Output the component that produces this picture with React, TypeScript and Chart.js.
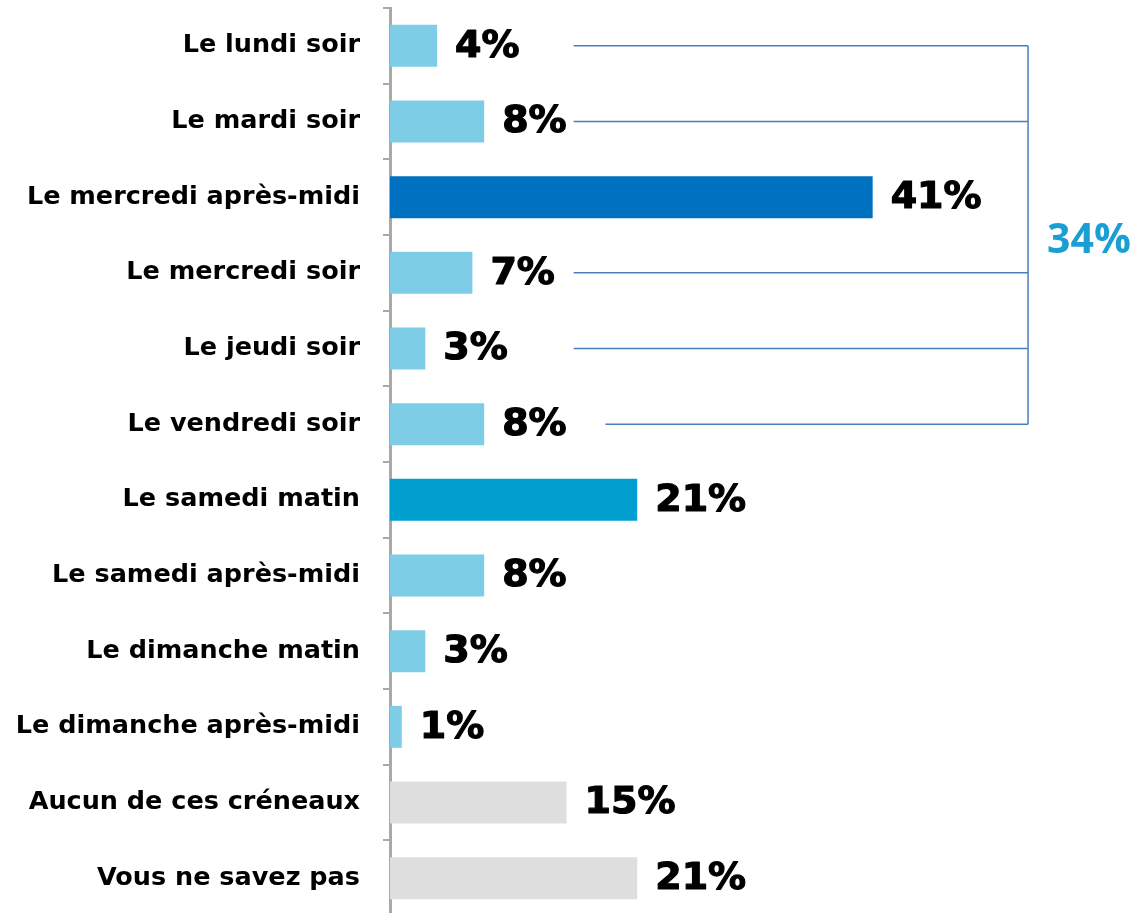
import React, { useEffect, useRef } from "react";
import { Chart, registerables } from "chart.js";

Chart.register(...registerables);

const categories = [
  "Le lundi soir",
  "Le mardi soir",
  "Le mercredi après-midi",
  "Le mercredi soir",
  "Le jeudi soir",
  "Le vendredi soir",
  "Le samedi matin",
  "Le samedi après-midi",
  "Le dimanche matin",
  "Le dimanche après-midi",
  "Aucun de ces créneaux",
  "Vous ne savez pas",
];
const values = [4, 8, 41, 7, 3, 8, 21, 8, 3, 1, 15, 21];
const LIGHT = "#7ecde6";
const DARK = "#0070c0";
const MID = "#009fd0";
const GRAY = "#dedede";
const barColors = [LIGHT, LIGHT, DARK, LIGHT, LIGHT, LIGHT, MID, LIGHT, LIGHT, LIGHT, GRAY, GRAY];
const bracketRows = [0, 1, 3, 4, 5];
const bracketTotal = "34%";

const valueLabels = {
  id: "valueLabels",
  afterDatasetsDraw(chart: any) {
    const { ctx } = chart;
    const meta = chart.getDatasetMeta(0);
    ctx.save();
    ctx.font = "bold 38px 'DejaVu Sans'";
    ctx.fillStyle = "#000";
    ctx.strokeStyle = "#000";
    ctx.lineWidth = 1.2;
    ctx.lineJoin = "round";
    ctx.textAlign = "left";
    ctx.textBaseline = "middle";
    meta.data.forEach((bar: any, i: number) => {
      const t = values[i] + "%";
      ctx.fillText(t, bar.x + 18, bar.y + 1);
      ctx.strokeText(t, bar.x + 18, bar.y + 1);
    });
    ctx.restore();
  },
};

const bracket = {
  id: "bracket",
  afterDatasetsDraw(chart: any) {
    const { ctx, scales } = chart;
    const xs = scales.x;
    const ys = scales.y;
    const right = xs.getPixelForValue(54.2);
    ctx.save();
    ctx.strokeStyle = "#4a7ebf";
    ctx.lineWidth = 1.5;
    const ysPix = bracketRows.map((r) => ys.getPixelForValue(r));
    bracketRows.forEach((r, k) => {
      const startVal = k === bracketRows.length - 1 ? 18.3 : 15.6;
      ctx.beginPath();
      ctx.moveTo(xs.getPixelForValue(startVal), ysPix[k]);
      ctx.lineTo(right, ysPix[k]);
      ctx.stroke();
    });
    ctx.beginPath();
    ctx.moveTo(right, ysPix[0]);
    ctx.lineTo(right, ysPix[ysPix.length - 1]);
    ctx.stroke();
    ctx.font = "bold 41px 'Open Sans'";
    ctx.fillStyle = "#1a9fd4";
    ctx.textAlign = "left";
    ctx.textBaseline = "middle";
    ctx.fillText(bracketTotal, right + 19, (ysPix[0] + ysPix[ysPix.length - 1]) / 2 + 6);
    ctx.restore();
  },
};

export default function App() {
  const ref = useRef<HTMLCanvasElement>(null);
  useEffect(() => {
    if (!ref.current) return;
    const chart = new Chart(ref.current, {
      type: "bar",
      data: {
        labels: categories,
        datasets: [
          {
            data: values,
            backgroundColor: barColors,
            barPercentage: 0.555,
            categoryPercentage: 1,
          },
        ],
      },
      options: {
        indexAxis: "y",
        animation: false,
        responsive: false,
        maintainAspectRatio: false,
        layout: { padding: { top: 8, right: 0, bottom: 0, left: 0 } },
        plugins: { legend: { display: false }, tooltip: { enabled: false } },
        scales: {
          x: { display: false, min: 0, max: 63.2 },
          y: {
            afterFit(scale: any) {
              scale.width = 390;
              scale.paddingTop = 0;
              scale.paddingBottom = 0;
            },
            grid: {
              display: true,
              drawOnChartArea: false,
              offset: true,
              tickLength: 7,
              color: "#a8a8a8",
              lineWidth: 2,
            },
            border: { display: true, color: "#a8a8a8", width: 3 },
            ticks: {
              padding: 23,
              color: "#000",
              font: { family: "'DejaVu Sans'", weight: "bold" as any, size: 25.5 },
            },
          },
        },
      },
      plugins: [valueLabels, bracket],
    });
    return () => chart.destroy();
  }, []);
  return (
    <div style={{ position: "fixed", left: 0, top: 0, width: 1134, height: 913, overflow: "hidden", background: "#fff" }}>
      <canvas ref={ref} width={1134} height={916} style={{ display: "block" }} />
    </div>
  );
}
